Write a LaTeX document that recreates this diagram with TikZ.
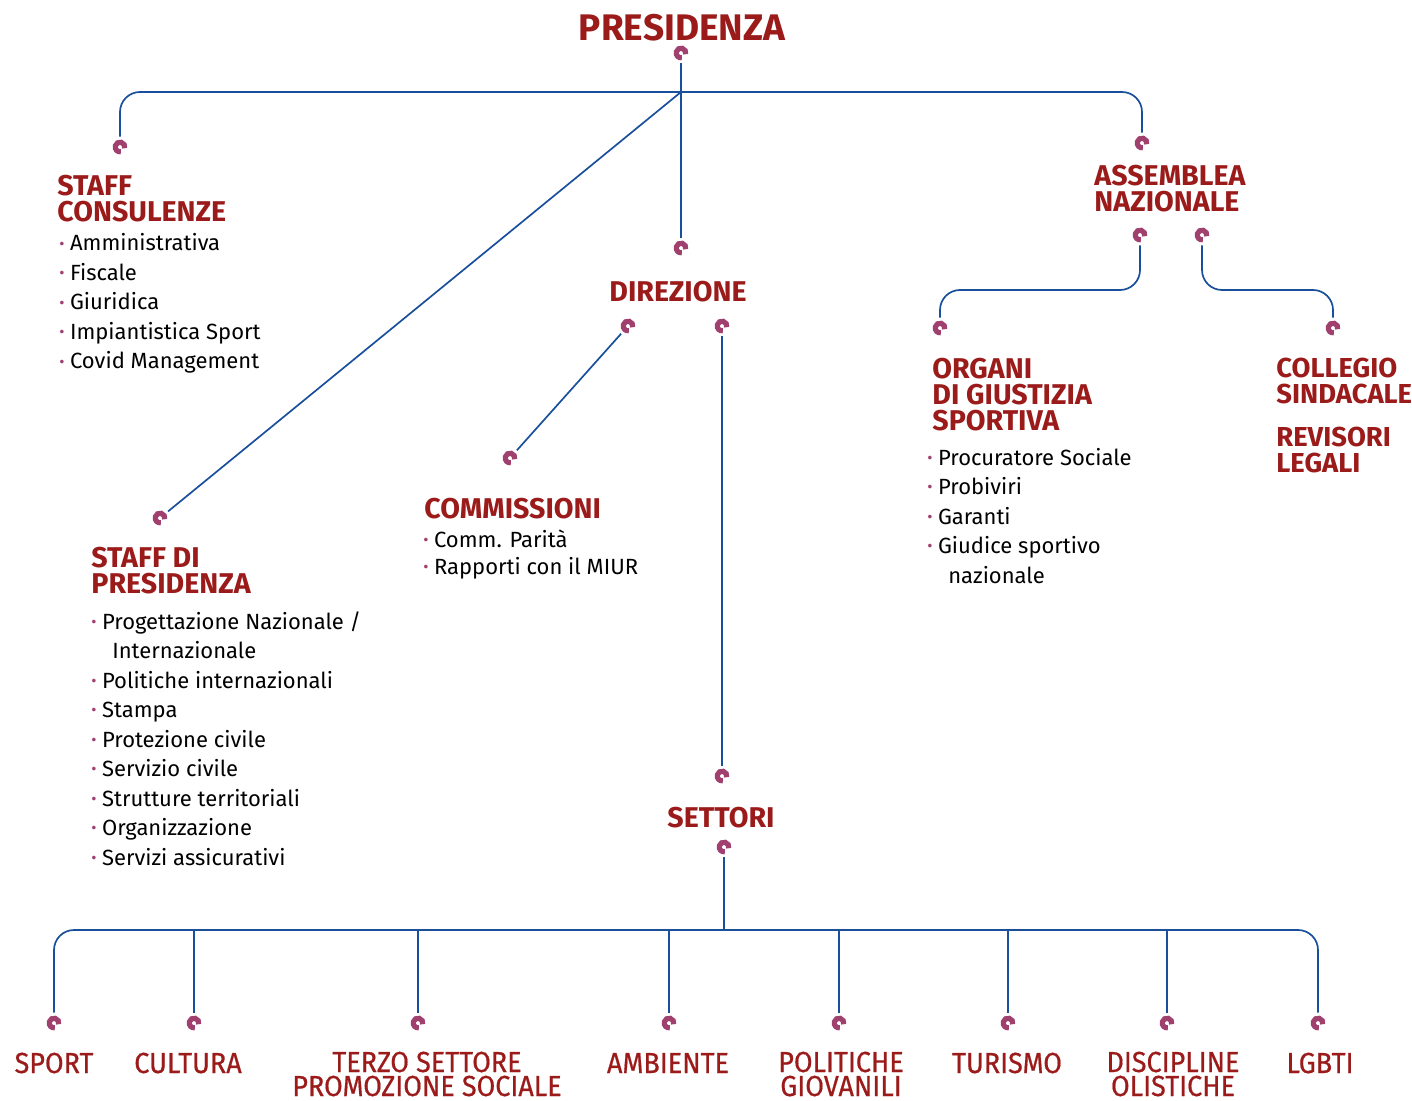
\documentclass[tikz,border=0pt]{standalone}
\usepackage{fontspec}
\setmainfont{Fira Sans}
\newfontfamily\capfont[FakeStretch=0.93,FakeBold=0.6]{Fira Sans}
\usetikzlibrary{positioning}

\definecolor{titlered}{HTML}{9B1B1B}
\definecolor{linkblue}{HTML}{1A4F9C}
\definecolor{ringcol}{HTML}{A0406E}

\newcommand{\itm}{\textcolor{ringcol}{\footnotesize\raisebox{0.2ex}{•}}\hspace{0.25em}}

\tikzset{
  ring/.style={circle, inner sep=0pt, minimum size=10pt,
    path picture={\draw[ringcol, line width=2.6pt]
      ([shift={(-15:2.4pt)}]path picture bounding box.center)
      arc[start angle=-15, end angle=280, radius=2.4pt];}},
  link/.style={draw=linkblue, line width=0.85pt},
  title/.style={text=titlered, inner sep=0pt, align=left,
    font=\bfseries\fontsize{14.3}{13}\selectfont},
  list/.style={inner sep=0pt, align=left,
    font=\fontsize{11}{14.75}\selectfont},
  sector/.style={text=titlered, inner sep=0pt, align=center, anchor=base,
    font=\capfont\fontsize{14.5}{12}\selectfont}
}

\begin{document}
\begin{tikzpicture}[x=0.5pt, y=-0.5pt]
\useasboundingbox (0,0) rectangle (1412,1101);

% titles (anchored at the baseline of their last line)
\node[title, anchor=base, font=\bfseries\fontsize{18.5}{22}\selectfont] (pres) at (682,41) {PRESIDENZA};
\node[title, anchor=base west] (cons) at (57,222) {STAFF\\CONSULENZE};
\node[title, anchor=base west] (ass) at (1094,212) {ASSEMBLEA\\NAZIONALE};
\node[title, anchor=base] (dir) at (678,302) {DIREZIONE};
\node[title, anchor=base west] (org) at (932,430) {ORGANI\\DI GIUSTIZIA\\SPORTIVA};
\node[title, anchor=base west, font=\bfseries\fontsize{13.7}{13}\selectfont] (col) at (1276,403) {COLLEGIO\\SINDACALE};
\node[title, anchor=base west, font=\bfseries\fontsize{13.7}{13}\selectfont] (rev) at (1276,472) {REVISORI\\LEGALI};
\node[title, anchor=base west] (com) at (424,518) {COMMISSIONI};
\node[title, anchor=base west] (sp) at (91,593) {STAFF DI\\PRESIDENZA};
\node[title, anchor=base] (set) at (721,827) {SETTORI};

% lists
\node[list, anchor=base west] (cons-l) at (59,369) {\itm Amministrativa\\ \itm Fiscale\\ \itm Giuridica\\
  \itm Impiantistica Sport\\ \itm Covid Management};
\node[list, anchor=base west] (org-l) at (927,583) {\itm Procuratore Sociale\\ \itm Probiviri\\ \itm Garanti\\
  \itm Giudice sportivo\\ \hspace*{0.95em}nazionale};
\node[list, anchor=base west, font=\fontsize{11}{13.5}\selectfont] (com-l) at (423,574) {\itm Comm. Parità\\ \itm Rapporti con il MIUR};
\node[list, anchor=base west] (sp-l) at (91,865) {\itm Progettazione Nazionale /\\ \hspace*{0.95em}Internazionale\\
  \itm Politiche internazionali\\ \itm Stampa\\ \itm Protezione civile\\ \itm Servizio civile\\
  \itm Strutture territoriali\\ \itm Organizzazione\\ \itm Servizi assicurativi};

% sectors
\node[sector] (s1) at (54,1073) {SPORT};
\node[sector] (s2) at (188,1073) {CULTURA};
\node[sector] (s3) at (427,1096) {TERZO SETTORE\\PROMOZIONE SOCIALE};
\node[sector] (s4) at (668,1073) {AMBIENTE};
\node[sector] (s5) at (841,1096) {POLITICHE\\GIOVANILI};
\node[sector] (s6) at (1007,1073) {TURISMO};
\node[sector] (s7) at (1173,1096) {DISCIPLINE\\OLISTICHE};
\node[sector] (s8) at (1320,1073) {LGBTI};

% rings
\node[ring] (pres-r) at (681,53) {};
\node[ring] (cons-r) at (120,147) {};
\node[ring] (ass-r) at (1142,143) {};
\node[ring] (dir-r) at (681,248) {};
\node[ring] (sp-r) at (160,518) {};
\node[ring] (ass-r1) at (1140,235) {};
\node[ring] (ass-r2) at (1202,235) {};
\node[ring] (org-r) at (940,328) {};
\node[ring] (col-r) at (1333,328) {};
\node[ring] (dir-r1) at (628,326) {};
\node[ring] (dir-r2) at (722,326) {};
\node[ring] (com-r) at (510,458) {};
\node[ring] (set-r1) at (722,776) {};
\node[ring] (set-r2) at (724,847) {};
\foreach \x [count=\i] in {54,194,418,669,839,1008,1167,1318}
  \node[ring] (b\i) at (\x,1023) {};

% connectors
\coordinate (top) at (681,92);
\coordinate (split) at (1170,290);
\coordinate (bot) at (724,930);
\draw[link] (pres-r) -- (top) -- (dir-r);
\draw[link, rounded corners=10] (cons-r) |- (top) -| (ass-r);
\draw[link] (top) -- (sp-r);
\draw[link, rounded corners=10] (ass-r1) -- (ass-r1 |- split) -| (org-r);
\draw[link, rounded corners=10] (ass-r2) -- (ass-r2 |- split) -| (col-r);
\draw[link] (dir-r1) -- (com-r);
\draw[link] (dir-r2) -- (set-r1);
\draw[link] (set-r2) -- (bot);
\draw[link, rounded corners=10] (b1) |- (bot) -| (b8);
\foreach \i in {2,...,7}
  \draw[link] (b\i) -- (b\i |- bot);
\end{tikzpicture}
\end{document}
